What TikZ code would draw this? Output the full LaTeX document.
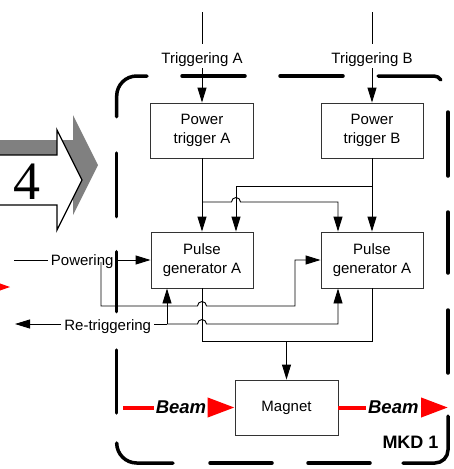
\documentclass[tikz,border=0pt]{standalone}
\usepackage{fontspec}
\setmainfont{Liberation Sans}
\newfontfamily\digitserif{Liberation Serif}
\usetikzlibrary{arrows.meta}

\definecolor{shadowgray}{HTML}{808080}

\tikzset{
  box/.style={draw=black!80, line width=0.9pt, minimum width=102pt, minimum height=55pt,
    align=center, inner sep=0pt, font=\fontsize{15}{19.5}\selectfont},
  wire/.style={line width=0.9pt},
  arr/.style={-{Triangle[length=15pt,width=9pt]}},
  lbl/.style={font=\fontsize{15}{18}\selectfont, anchor=base, inner sep=3pt},
  triglbl/.style={font=\fontsize{15}{18}\selectfont, anchor=base, inner xsep=2pt, inner ysep=0pt,
    text height=19pt, text depth=4.7pt},
  border/.style={line width=3.5pt, line cap=round},
  beamline/.style={red, line width=4pt},
  beamarr/.style={red, line width=4pt, -{Triangle[length=27pt,width=19pt]}},
  beamlbl/.style={font=\fontsize{18.5}{20}\selectfont\bfseries\itshape, anchor=base, inner sep=2pt},
}

\begin{document}
\begin{tikzpicture}[x=1pt, y=-1pt]
\clip (0,0) rectangle (453,469);
\fill[white] (0,0) rectangle (453,469);

% big block arrow with its shadow
\fill[shadowgray] (-5,140) -- (73,140) -- (73,115) -- (98,165) -- (73,215) -- (73,190) -- (-5,190) -- cycle;
\draw[line width=1.3pt, fill=white, line join=miter]
  (-5,155) -- (57,155) -- (57,130) -- (82,180) -- (57,230) -- (57,205) -- (-5,205) -- cycle;
\node[font=\digitserif\fontsize{54}{54}\selectfont, inner sep=0pt] (four) at (26.5,181.5) {4};

% incoming beam tip on the far left
\fill[red] (10,287) -- (-17,277.5) -- (-17,296.5) -- cycle;

% dashed enclosure of MKD 1
\draw[border] (116.7,116.7) -- (116.7,96) arc[start angle=180, end angle=90, radius=20pt] -- (147,76);
\draw[border] (182,76) -- (245,76);
\draw[border] (280,76) -- (343,76);
\draw[border] (378,76) -- (434,76) arc[start angle=90, end angle=30, radius=8pt];
\draw[border] (448,112) -- (448,176);
\draw[border] (448,212) -- (448,273);
\draw[border] (448,310) -- (448,373);
\draw[border] (448,416) -- (448,450) arc[start angle=0, end angle=-90, radius=13pt] -- (403,463);
\draw[border] (370,463) -- (308,463);
\draw[border] (272,463) -- (210,463);
\draw[border] (173,463) -- (136.7,463) arc[start angle=270, end angle=180, radius=20pt];
\draw[border] (116.7,413) -- (116.7,350);
\draw[border] (116.7,311.7) -- (116.7,251.7);
\draw[border] (116.7,216.7) -- (116.7,153);
\node[font=\fontsize{18}{20}\selectfont\bfseries, anchor=base] (mkd) at (410.5,448.3) {MKD 1};

% blocks
\node[box, minimum width=103pt] (pta) at (202,130.5) {Power\\trigger A};
\node[box] (ptb) at (372,130.5) {Power\\trigger B};
\node[box, minimum height=56pt] (pga) at (202,260) {Pulse\\generator A};
\node[box, minimum height=56pt] (pgb) at (372,260) {Pulse\\generator A};
\node[box, minimum width=103pt] (mag) at (286.5,407.5) {Magnet};

% helper coordinates
\coordinate (tA) at (202,12);
\coordinate (tB) at (372,12);
\coordinate (jA) at (202,202);
\coordinate (jB) at (372,186);
\coordinate (xl) at (236,0);
\coordinate (xr) at (338,0);
\coordinate (pw) at (14,260);
\coordinate (pwj) at (101,262);
\coordinate (rtj) at (167,324);
\coordinate (rtE) at (15,324);
\coordinate (oj) at (286.5,341);
\coordinate (bS) at (123,407.5);
\coordinate (bE) at (448,407.5);

% triggering inputs
\node[triglbl] (labA) at (202,63.3) {Triggering A};
\node[triglbl] (labB) at (372,63.3) {Triggering B};
\draw[wire] (tA) -- (labA.north);
\draw[wire, arr] (labA.south) -- (pta.north);
\draw[wire] (tB) -- (labB.north);
\draw[wire, arr] (labB.south) -- (ptb.north);

% power triggers to pulse generators
\draw[wire, arr] (pta.south) -- (pga.north);
\draw[wire, arr] (ptb.south) -- (pgb.north);
\draw[wire, arr] (jB) -- (236,186) -- (xl |- pga.north);
\draw[wire, arr] (jA) -- (231.5,202) arc[start angle=180, end angle=0, radius=4.5pt]
  -- (338,202) -- (xr |- pgb.north);

% powering
\node[lbl] (pwl) at (82.2,265.7) {Powering};
\draw[wire] (pw) -- (pw -| pwl.west);
\draw[wire, arr] (pwl.east |- pga.west) -- (pga.west);
\draw[wire, arr] (pwj) -- (101,306) -- (197.5,306) arc[start angle=180, end angle=0, radius=4.5pt]
  -- (295,306) -- (295,260) -- (pgb.west);

% re-triggering
\node[lbl] (rtl) at (107.7,330.7) {Re-triggering};
\draw[wire] (rtj) -- (rtj -| rtl.east);
\draw[wire, arr] (rtj -| rtl.west) -- (rtE);
\draw[wire, arr] (rtj) -- (rtj |- pga.south);
\draw[wire, arr] (rtj) -- (197.5,324) arc[start angle=180, end angle=0, radius=4.5pt]
  -- (338,324) -- (xr |- pgb.south);

% pulse generators to magnet
\draw[wire] (pga.south) -- (202,341) -- (372,341) -- (pgb.south);
\draw[wire, arr] (oj) -- (mag.north);

% beam through the magnet
\node[beamlbl] (bl1) at (181,413.3) {Beam};
\node[beamlbl] (bl2) at (393.3,413.3) {Beam};
\draw[beamline] (bS) -- (bS -| bl1.west);
\draw[beamarr] (bl1.east |- mag.west) -- (mag.west);
\draw[beamline] (mag.east) -- (mag.east -| bl2.west);
\draw[beamarr] (bl2.east |- bE) -- (bE);
\end{tikzpicture}
\end{document}
